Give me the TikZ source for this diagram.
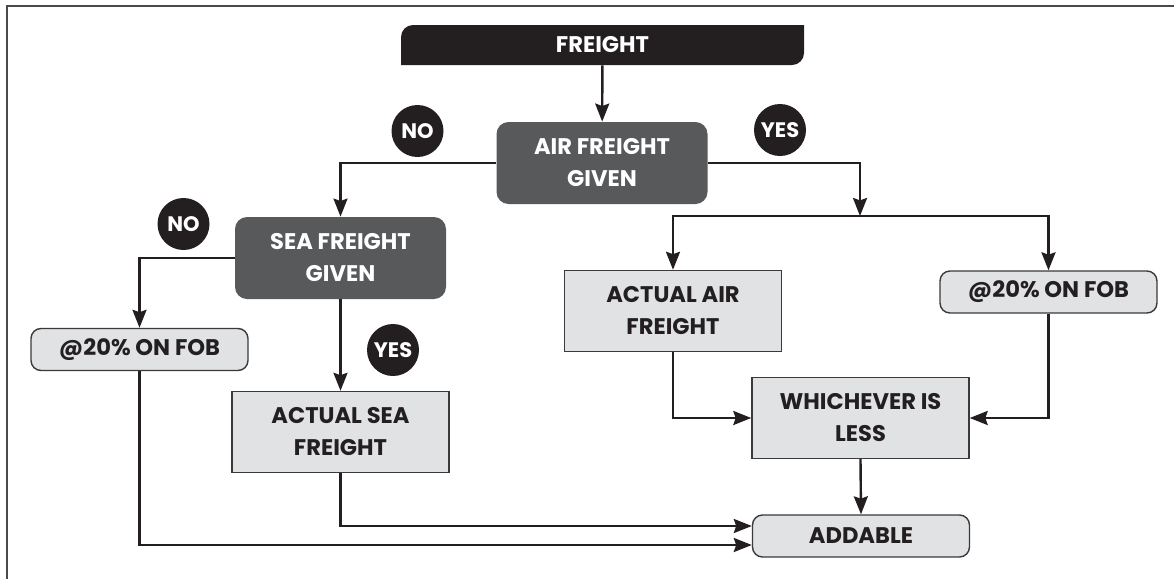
\documentclass[tikz,border=0pt]{standalone}
\usepackage{fontspec}
\setmainfont{Poppins}
\usepackage{xcolor}
\usepackage{tikz}
\usetikzlibrary{arrows.meta, positioning}

\definecolor{inkblack}{HTML}{231F20}
\definecolor{darkfill}{HTML}{58595B}
\definecolor{lightfill}{HTML}{E1E2E4}
\definecolor{edgegray}{HTML}{3A3A3C}
\definecolor{framegray}{HTML}{4A4A4A}

\begin{document}
\begin{tikzpicture}[x=0.5pt, y=0.5pt,
    >={Stealth[length=9pt, width=7pt, inset=1.2pt]},
    txt/.style={font=\bfseries\fontsize{11.3}{16}\selectfont, align=center},
    darkbox/.style={txt, fill=darkfill, text=white, rounded corners=6pt,
        minimum width=105.5pt, minimum height=41pt},
    lightbox/.style={txt, fill=lightfill, draw=edgegray, line width=0.7pt,
        text=inkblack, minimum width=108.5pt, minimum height=40.5pt},
    pillbox/.style={lightbox, rounded corners=5pt, minimum height=21pt},
    badge/.style={circle, fill=inkblack, text=white, inner sep=0pt,
        minimum size=26pt, font=\bfseries\fontsize{10.5}{12}\selectfont},
    link/.style={->, draw=inkblack, line width=1.2pt}]

    \useasboundingbox (0,0) rectangle (1174,-579);

    % =================================================================
    % 1. KHUNG NGOAI
    % =================================================================
    \draw[framegray, line width=0.8pt] (7,-579) -- (7,-6) -- (1174,-6);

    % =================================================================
    % 2. O TIEU DE FREIGHT
    % =================================================================
    \fill[inkblack] (401,-65) -- (401,-37) arc[start angle=180, end angle=90, radius=6pt]
        -- (804,-25) -- (804,-53) arc[start angle=0, end angle=-90, radius=6pt] -- cycle;
    \node[txt, text=white, minimum width=201.5pt, minimum height=20pt] (freight) at (602.5,-45) {FREIGHT};

    % =================================================================
    % 3. CAC O QUYET DINH VA KET QUA
    % =================================================================
    \node[darkbox] (air) at (602,-163) {AIR FREIGHT\\GIVEN};
    \node[darkbox] (sea) at (340.5,-258) {SEA FREIGHT\\GIVEN};

    \node[pillbox] (fobsea) at (139.5,-349.5) {@20\% ON FOB};
    \node[lightbox] (actsea) at (340.5,-432) {ACTUAL SEA\\FREIGHT};
    \node[lightbox] (actair) at (673,-311) {ACTUAL AIR\\FREIGHT};
    \node[pillbox] (fobair) at (1048.5,-292) {@20\% ON FOB};
    \node[lightbox] (less) at (860.5,-418) {WHICHEVER IS\\LESS};
    \node[pillbox] (addable) at (861,-536) {ADDABLE};

    % Nhan NO / YES
    \node[badge] (noair) at (417.5,-131) {NO};
    \node[badge] (yesair) at (780,-130) {YES};
    \node[badge] (nosea) at (183.5,-224) {NO};
    \node[badge] (yessea) at (393,-350) {YES};

    % =================================================================
    % 4. CAC MUI TEN NOI
    % =================================================================
    \coordinate (split) at (860,-216);

    \draw[link] (freight) -- (air);
    \draw[link] (air.west) -| (sea.north);
    \draw[link] (air.east) -| (split);
    \draw[link] (split) -| (actair.north);
    \draw[link] (split) -| (fobair.north);

    \draw[link] (sea.west) -| (fobsea.north);
    \draw[link] (sea.south) -- (actsea.north);

    \draw[link] (actair.south) |- (less.west);
    \draw[link] (fobair.south) |- (less.east);
    \draw[link] (less.south) -- (addable.north);

    \draw[link] (actsea.south) |- ([yshift=5pt]addable.west);
    \draw[link] (fobsea.south) |- ([yshift=-4.5pt]addable.west);

\end{tikzpicture}
\end{document}
